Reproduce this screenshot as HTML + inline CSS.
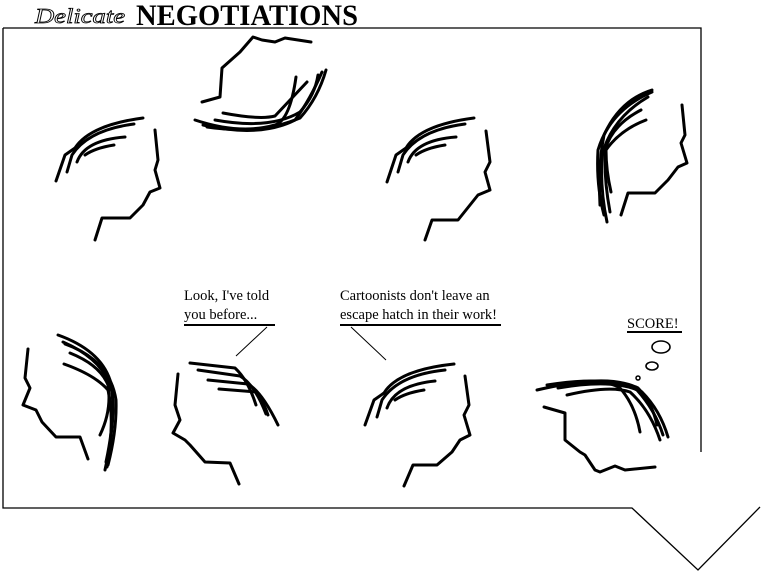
<!DOCTYPE html>
<html><head><meta charset="utf-8"><style>
html,body{margin:0;padding:0;background:#fff;}
svg{display:block;}
</style></head><body>
<svg width="765" height="577" viewBox="0 0 765 577" xmlns="http://www.w3.org/2000/svg">
<rect width="765" height="577" fill="#fff"/>
<text x="35" y="23" font-family="Liberation Serif, serif" font-style="italic" font-size="21" textLength="90" lengthAdjust="spacingAndGlyphs" fill="#fff" stroke="#000" stroke-width="0.8">Delicate</text>
<text x="136" y="25" font-family="Liberation Serif, serif" font-weight="bold" font-size="30" textLength="222" lengthAdjust="spacingAndGlyphs" fill="#000">NEGOTIATIONS</text>
<g fill="none" stroke="#000" stroke-width="1.3">
<polyline points="3,28 701,28 701,452"/>
<polyline points="3,28 3,508 632,508 698,570 760,507"/>
</g>
<g fill="none" stroke="#000" stroke-width="3" stroke-linecap="round" stroke-linejoin="round">
<!-- head1 -->
<polyline points="155,130 158,160 155,170 160,188 150,192 143,205 130,218 102,218 95,240"/>
<path d="M56,181 L65,155 L75,148 Q90,125 143,118"/>
<path d="M67,172 L72,155 Q88,130 134,124"/>
<path d="M77,162 Q85,140 125,137"/>
<path d="M85,155 Q95,148 114,145"/>
<!-- head2 -->
<polyline points="202,102 220,97 222,68 240,52 253,37 262,40 275,42 285,38 311,42"/>
<path d="M195,120 Q240,135 275,125 Q290,120 296,77"/>
<path d="M203,125 Q260,138 295,120 Q310,100 322,72"/>
<path d="M215,120 Q270,130 300,112 Q315,95 318,75"/>
<path d="M223,113 Q260,120 275,116 Q290,100 307,82"/>
<path d="M207,127 Q260,135 300,118 Q318,98 326,70"/>
<!-- head3 -->
<polyline points="486,131 490,162 485,172 490,190 478,195 470,205 458,220 432,220 425,240"/>
<path d="M387,182 L396,155 L406,148 Q420,125 474,118"/>
<path d="M398,172 L403,155 Q419,130 465,124"/>
<path d="M408,162 Q416,140 456,137"/>
<path d="M416,155 Q426,148 445,145"/>
<!-- head4 -->
<polyline points="682,105 685,135 681,143 687,163 678,167 668,180 655,193 628,193 621,215"/>
<path d="M652,92 Q610,110 598,150 Q596,185 604,215"/>
<path d="M648,97 Q612,118 602,155 Q600,190 607,222"/>
<path d="M641,110 Q612,125 605,150 Q604,180 610,212"/>
<path d="M646,120 Q620,130 606,150 Q606,170 611,192"/>
<path d="M652,90 Q620,100 604,135 Q598,165 600,205"/>
<!-- head5 -->
<polyline points="28,349 25,378 30,388 23,405 36,410 42,422 56,437 80,437 88,459"/>
<path d="M58,335 Q100,350 110,380 Q118,410 105,470"/>
<path d="M63,342 Q105,360 112,392 Q115,420 106,462"/>
<path d="M70,353 Q100,365 108,385 Q112,410 100,435"/>
<path d="M64,364 Q95,375 108,390 Q115,420 107,467"/>
<path d="M65,344 Q110,360 116,400 Q117,430 108,465"/>
<!-- head6 -->
<polyline points="178,374 175,405 180,420 173,433 185,440 190,445 205,462 230,463 239,484"/>
<path d="M190,363 L235,368 Q248,380 256,405"/>
<path d="M198,370 L240,376 Q255,385 266,414"/>
<path d="M208,380 L248,384 Q262,392 278,425"/>
<path d="M219,389 L256,392 Q265,405 268,415"/>
<!-- head7 -->
<polyline points="465,376 469,405 464,415 470,435 460,440 452,452 437,465 413,465 404,486"/>
<path d="M365,425 L374,400 L384,393 Q398,370 454,364"/>
<path d="M377,417 L382,400 Q398,375 445,370"/>
<path d="M387,408 Q395,385 435,381"/>
<path d="M395,400 Q405,393 424,390"/>
<!-- head8 -->
<polyline points="544,407 565,413 565,440 580,452 585,455 595,470 600,472 615,466 625,470 655,467"/>
<path d="M537,390 Q600,375 620,388 Q635,405 640,432"/>
<path d="M547,385 Q610,375 637,390 Q655,410 663,435"/>
<path d="M567,395 Q610,385 630,392 Q650,410 660,440"/>
<path d="M558,388 Q615,378 642,392 Q660,410 668,437"/>
<path d="M575,383 Q615,377 638,388 Q652,402 657,425"/>
</g>
<g font-family="Liberation Serif, serif" font-size="14.5" fill="#000">
<text x="184" y="300">Look, I've told</text>
<text x="184" y="319">you before...</text>
<text x="340" y="300">Cartoonists don't leave an</text>
<text x="340" y="319">escape hatch in their work!</text>
<text x="627" y="328">SCORE!</text>
</g>
<g stroke="#000" fill="none">
<line x1="184" y1="325" x2="275" y2="325" stroke-width="2"/>
<line x1="267" y1="327" x2="236" y2="356" stroke-width="1"/>
<line x1="340" y1="325" x2="501" y2="325" stroke-width="2"/>
<line x1="351" y1="327" x2="386" y2="360" stroke-width="1"/>
<line x1="627" y1="332" x2="682" y2="332" stroke-width="2"/>
<ellipse cx="661" cy="347" rx="9" ry="6" stroke-width="1.6"/>
<ellipse cx="652" cy="366" rx="6" ry="4" stroke-width="1.6"/>
<circle cx="638" cy="378" r="2" stroke-width="1.5"/>
</g>
</svg>
</body></html>
